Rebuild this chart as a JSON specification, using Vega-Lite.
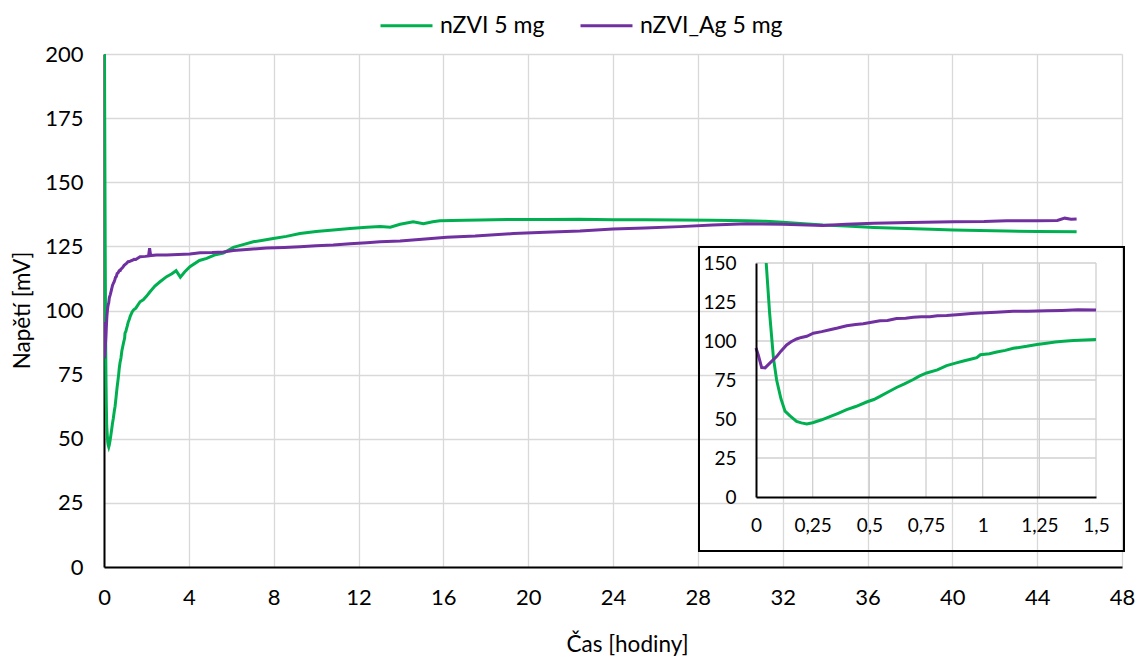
{
  "$schema": "https://vega.github.io/schema/vega-lite/v6.json",
  "width": 1018,
  "height": 513,
  "autosize": {"type": "none"},
  "padding": {"left": 104, "top": 54, "right": 14, "bottom": 91},
  "background": "white",
  "config": {
    "view": {"stroke": null},
    "font": "Lato",
    "axis": {"labelFont": "Lato", "titleFont": "Lato", "labelColor": "black", "titleColor": "black", "titleFontWeight": "normal"},
    "legend": {"labelFont": "Lato"}
  },
  "datasets": {
    "insetTimes": [{"t": 0.25}, {"t": 0.5}, {"t": 0.75}, {"t": 1}, {"t": 1.25}, {"t": 1.5}],
    "insetVolts": [{"v": 25}, {"v": 50}, {"v": 75}, {"v": 100}, {"v": 125}, {"v": 150}],
    "curves": [
      {"t": 0, "v": 260, "s": "nZVI 5 mg"},
      {"t": 0.02, "v": 205, "s": "nZVI 5 mg"},
      {"t": 0.045, "v": 150, "s": "nZVI 5 mg"},
      {"t": 0.06, "v": 118, "s": "nZVI 5 mg"},
      {"t": 0.077, "v": 89, "s": "nZVI 5 mg"},
      {"t": 0.091, "v": 75, "s": "nZVI 5 mg"},
      {"t": 0.11, "v": 63, "s": "nZVI 5 mg"},
      {"t": 0.128, "v": 55, "s": "nZVI 5 mg"},
      {"t": 0.15, "v": 52, "s": "nZVI 5 mg"},
      {"t": 0.179, "v": 48.5, "s": "nZVI 5 mg"},
      {"t": 0.2, "v": 47.5, "s": "nZVI 5 mg"},
      {"t": 0.224, "v": 46.8, "s": "nZVI 5 mg"},
      {"t": 0.25, "v": 47.6, "s": "nZVI 5 mg"},
      {"t": 0.29, "v": 49.5, "s": "nZVI 5 mg"},
      {"t": 0.326, "v": 51.5, "s": "nZVI 5 mg"},
      {"t": 0.36, "v": 53.5, "s": "nZVI 5 mg"},
      {"t": 0.4, "v": 56, "s": "nZVI 5 mg"},
      {"t": 0.44, "v": 58, "s": "nZVI 5 mg"},
      {"t": 0.488, "v": 60.9, "s": "nZVI 5 mg"},
      {"t": 0.52, "v": 62.5, "s": "nZVI 5 mg"},
      {"t": 0.547, "v": 64.5, "s": "nZVI 5 mg"},
      {"t": 0.585, "v": 67.5, "s": "nZVI 5 mg"},
      {"t": 0.62, "v": 70.2, "s": "nZVI 5 mg"},
      {"t": 0.655, "v": 72.5, "s": "nZVI 5 mg"},
      {"t": 0.694, "v": 75.3, "s": "nZVI 5 mg"},
      {"t": 0.72, "v": 77.5, "s": "nZVI 5 mg"},
      {"t": 0.753, "v": 79.5, "s": "nZVI 5 mg"},
      {"t": 0.8, "v": 81.5, "s": "nZVI 5 mg"},
      {"t": 0.841, "v": 84.2, "s": "nZVI 5 mg"},
      {"t": 0.88, "v": 85.8, "s": "nZVI 5 mg"},
      {"t": 0.915, "v": 87.2, "s": "nZVI 5 mg"},
      {"t": 0.96, "v": 88.8, "s": "nZVI 5 mg"},
      {"t": 0.974, "v": 89.3, "s": "nZVI 5 mg"},
      {"t": 0.99, "v": 91.2, "s": "nZVI 5 mg"},
      {"t": 1.03, "v": 91.8, "s": "nZVI 5 mg"},
      {"t": 1.062, "v": 92.9, "s": "nZVI 5 mg"},
      {"t": 1.1, "v": 94, "s": "nZVI 5 mg"},
      {"t": 1.135, "v": 95.3, "s": "nZVI 5 mg"},
      {"t": 1.194, "v": 96.6, "s": "nZVI 5 mg"},
      {"t": 1.24, "v": 97.8, "s": "nZVI 5 mg"},
      {"t": 1.282, "v": 98.6, "s": "nZVI 5 mg"},
      {"t": 1.32, "v": 99.3, "s": "nZVI 5 mg"},
      {"t": 1.356, "v": 99.8, "s": "nZVI 5 mg"},
      {"t": 1.4, "v": 100.3, "s": "nZVI 5 mg"},
      {"t": 1.45, "v": 100.6, "s": "nZVI 5 mg"},
      {"t": 1.5, "v": 100.9, "s": "nZVI 5 mg"},
      {"t": 1.7, "v": 103.4, "s": "nZVI 5 mg"},
      {"t": 1.85, "v": 104.2, "s": "nZVI 5 mg"},
      {"t": 2.0, "v": 105.5, "s": "nZVI 5 mg"},
      {"t": 2.17, "v": 107.3, "s": "nZVI 5 mg"},
      {"t": 2.4, "v": 109.5, "s": "nZVI 5 mg"},
      {"t": 2.64, "v": 111.2, "s": "nZVI 5 mg"},
      {"t": 2.95, "v": 113.2, "s": "nZVI 5 mg"},
      {"t": 3.2, "v": 114.3, "s": "nZVI 5 mg"},
      {"t": 3.4, "v": 115.5, "s": "nZVI 5 mg"},
      {"t": 3.6, "v": 113.0, "s": "nZVI 5 mg"},
      {"t": 3.8, "v": 115.0, "s": "nZVI 5 mg"},
      {"t": 4.05, "v": 117.1, "s": "nZVI 5 mg"},
      {"t": 4.5, "v": 119.5, "s": "nZVI 5 mg"},
      {"t": 4.84, "v": 120.3, "s": "nZVI 5 mg"},
      {"t": 5.2, "v": 121.6, "s": "nZVI 5 mg"},
      {"t": 5.63, "v": 122.4, "s": "nZVI 5 mg"},
      {"t": 6.1, "v": 124.6, "s": "nZVI 5 mg"},
      {"t": 6.6, "v": 125.8, "s": "nZVI 5 mg"},
      {"t": 7.04, "v": 126.8, "s": "nZVI 5 mg"},
      {"t": 7.5, "v": 127.4, "s": "nZVI 5 mg"},
      {"t": 7.98, "v": 128.1, "s": "nZVI 5 mg"},
      {"t": 8.6, "v": 128.9, "s": "nZVI 5 mg"},
      {"t": 9.24, "v": 130.0, "s": "nZVI 5 mg"},
      {"t": 10.0, "v": 130.8, "s": "nZVI 5 mg"},
      {"t": 10.81, "v": 131.4, "s": "nZVI 5 mg"},
      {"t": 11.6, "v": 132.0, "s": "nZVI 5 mg"},
      {"t": 12.39, "v": 132.5, "s": "nZVI 5 mg"},
      {"t": 13.02, "v": 132.7, "s": "nZVI 5 mg"},
      {"t": 13.5, "v": 132.5, "s": "nZVI 5 mg"},
      {"t": 13.96, "v": 133.6, "s": "nZVI 5 mg"},
      {"t": 14.58, "v": 134.6, "s": "nZVI 5 mg"},
      {"t": 15.06, "v": 133.8, "s": "nZVI 5 mg"},
      {"t": 15.5, "v": 134.6, "s": "nZVI 5 mg"},
      {"t": 15.84, "v": 135.0, "s": "nZVI 5 mg"},
      {"t": 17.0, "v": 135.2, "s": "nZVI 5 mg"},
      {"t": 17.73, "v": 135.3, "s": "nZVI 5 mg"},
      {"t": 19.0, "v": 135.5, "s": "nZVI 5 mg"},
      {"t": 20.87, "v": 135.5, "s": "nZVI 5 mg"},
      {"t": 22.4, "v": 135.6, "s": "nZVI 5 mg"},
      {"t": 24.0, "v": 135.4, "s": "nZVI 5 mg"},
      {"t": 25.5, "v": 135.4, "s": "nZVI 5 mg"},
      {"t": 27.16, "v": 135.3, "s": "nZVI 5 mg"},
      {"t": 28.7, "v": 135.2, "s": "nZVI 5 mg"},
      {"t": 30.3, "v": 135.0, "s": "nZVI 5 mg"},
      {"t": 31.2, "v": 134.8, "s": "nZVI 5 mg"},
      {"t": 32.0, "v": 134.4, "s": "nZVI 5 mg"},
      {"t": 33.0, "v": 133.8, "s": "nZVI 5 mg"},
      {"t": 33.9, "v": 133.3, "s": "nZVI 5 mg"},
      {"t": 35.0, "v": 132.9, "s": "nZVI 5 mg"},
      {"t": 36.3, "v": 132.4, "s": "nZVI 5 mg"},
      {"t": 37.85, "v": 132.0, "s": "nZVI 5 mg"},
      {"t": 39.0, "v": 131.7, "s": "nZVI 5 mg"},
      {"t": 40.05, "v": 131.4, "s": "nZVI 5 mg"},
      {"t": 41.3, "v": 131.2, "s": "nZVI 5 mg"},
      {"t": 42.56, "v": 131.0, "s": "nZVI 5 mg"},
      {"t": 44.0, "v": 130.8, "s": "nZVI 5 mg"},
      {"t": 45.86, "v": 130.7, "s": "nZVI 5 mg"},
      {"t": 0, "v": 95.5, "s": "nZVI_Ag 5 mg"},
      {"t": 0.01, "v": 91, "s": "nZVI_Ag 5 mg"},
      {"t": 0.025, "v": 83, "s": "nZVI_Ag 5 mg"},
      {"t": 0.04, "v": 82.8, "s": "nZVI_Ag 5 mg"},
      {"t": 0.062, "v": 86, "s": "nZVI_Ag 5 mg"},
      {"t": 0.091, "v": 90, "s": "nZVI_Ag 5 mg"},
      {"t": 0.11, "v": 93.5, "s": "nZVI_Ag 5 mg"},
      {"t": 0.135, "v": 97.5, "s": "nZVI_Ag 5 mg"},
      {"t": 0.155, "v": 99.5, "s": "nZVI_Ag 5 mg"},
      {"t": 0.179, "v": 101.3, "s": "nZVI_Ag 5 mg"},
      {"t": 0.2, "v": 102.3, "s": "nZVI_Ag 5 mg"},
      {"t": 0.224, "v": 103, "s": "nZVI_Ag 5 mg"},
      {"t": 0.253, "v": 105, "s": "nZVI_Ag 5 mg"},
      {"t": 0.29, "v": 106, "s": "nZVI_Ag 5 mg"},
      {"t": 0.326, "v": 107.2, "s": "nZVI_Ag 5 mg"},
      {"t": 0.36, "v": 108.3, "s": "nZVI_Ag 5 mg"},
      {"t": 0.4, "v": 109.8, "s": "nZVI_Ag 5 mg"},
      {"t": 0.44, "v": 110.6, "s": "nZVI_Ag 5 mg"},
      {"t": 0.473, "v": 111.1, "s": "nZVI_Ag 5 mg"},
      {"t": 0.51, "v": 112, "s": "nZVI_Ag 5 mg"},
      {"t": 0.547, "v": 113, "s": "nZVI_Ag 5 mg"},
      {"t": 0.58, "v": 113.2, "s": "nZVI_Ag 5 mg"},
      {"t": 0.62, "v": 114.4, "s": "nZVI_Ag 5 mg"},
      {"t": 0.66, "v": 114.6, "s": "nZVI_Ag 5 mg"},
      {"t": 0.694, "v": 115.2, "s": "nZVI_Ag 5 mg"},
      {"t": 0.73, "v": 115.6, "s": "nZVI_Ag 5 mg"},
      {"t": 0.767, "v": 115.6, "s": "nZVI_Ag 5 mg"},
      {"t": 0.8, "v": 116.2, "s": "nZVI_Ag 5 mg"},
      {"t": 0.841, "v": 116.4, "s": "nZVI_Ag 5 mg"},
      {"t": 0.9, "v": 117, "s": "nZVI_Ag 5 mg"},
      {"t": 0.95, "v": 117.6, "s": "nZVI_Ag 5 mg"},
      {"t": 0.99, "v": 117.9, "s": "nZVI_Ag 5 mg"},
      {"t": 1.06, "v": 118.4, "s": "nZVI_Ag 5 mg"},
      {"t": 1.135, "v": 119, "s": "nZVI_Ag 5 mg"},
      {"t": 1.2, "v": 119.1, "s": "nZVI_Ag 5 mg"},
      {"t": 1.282, "v": 119.4, "s": "nZVI_Ag 5 mg"},
      {"t": 1.35, "v": 119.6, "s": "nZVI_Ag 5 mg"},
      {"t": 1.42, "v": 120, "s": "nZVI_Ag 5 mg"},
      {"t": 1.5, "v": 119.9, "s": "nZVI_Ag 5 mg"},
      {"t": 1.7, "v": 121, "s": "nZVI_Ag 5 mg"},
      {"t": 1.95, "v": 121.1, "s": "nZVI_Ag 5 mg"},
      {"t": 2.1, "v": 121.3, "s": "nZVI_Ag 5 mg"},
      {"t": 2.15, "v": 124.3, "s": "nZVI_Ag 5 mg"},
      {"t": 2.2, "v": 121.4, "s": "nZVI_Ag 5 mg"},
      {"t": 2.48, "v": 121.6, "s": "nZVI_Ag 5 mg"},
      {"t": 2.95, "v": 121.6, "s": "nZVI_Ag 5 mg"},
      {"t": 3.5, "v": 121.8, "s": "nZVI_Ag 5 mg"},
      {"t": 4.05, "v": 122, "s": "nZVI_Ag 5 mg"},
      {"t": 4.53, "v": 122.5, "s": "nZVI_Ag 5 mg"},
      {"t": 5.1, "v": 122.6, "s": "nZVI_Ag 5 mg"},
      {"t": 5.63, "v": 122.8, "s": "nZVI_Ag 5 mg"},
      {"t": 6.1, "v": 123.4, "s": "nZVI_Ag 5 mg"},
      {"t": 6.88, "v": 123.9, "s": "nZVI_Ag 5 mg"},
      {"t": 7.67, "v": 124.4, "s": "nZVI_Ag 5 mg"},
      {"t": 8.5, "v": 124.6, "s": "nZVI_Ag 5 mg"},
      {"t": 9.24, "v": 124.9, "s": "nZVI_Ag 5 mg"},
      {"t": 10.0, "v": 125.2, "s": "nZVI_Ag 5 mg"},
      {"t": 10.81, "v": 125.5, "s": "nZVI_Ag 5 mg"},
      {"t": 11.6, "v": 126.0, "s": "nZVI_Ag 5 mg"},
      {"t": 12.39, "v": 126.4, "s": "nZVI_Ag 5 mg"},
      {"t": 13.02, "v": 126.8, "s": "nZVI_Ag 5 mg"},
      {"t": 13.96, "v": 127.1, "s": "nZVI_Ag 5 mg"},
      {"t": 15.0, "v": 127.8, "s": "nZVI_Ag 5 mg"},
      {"t": 16.16, "v": 128.6, "s": "nZVI_Ag 5 mg"},
      {"t": 17.5, "v": 129.0, "s": "nZVI_Ag 5 mg"},
      {"t": 19.3, "v": 130.0, "s": "nZVI_Ag 5 mg"},
      {"t": 20.8, "v": 130.5, "s": "nZVI_Ag 5 mg"},
      {"t": 22.44, "v": 131.0, "s": "nZVI_Ag 5 mg"},
      {"t": 24.0, "v": 131.8, "s": "nZVI_Ag 5 mg"},
      {"t": 25.5, "v": 132.2, "s": "nZVI_Ag 5 mg"},
      {"t": 27.16, "v": 132.7, "s": "nZVI_Ag 5 mg"},
      {"t": 28.7, "v": 133.3, "s": "nZVI_Ag 5 mg"},
      {"t": 30.3, "v": 133.8, "s": "nZVI_Ag 5 mg"},
      {"t": 32.0, "v": 133.6, "s": "nZVI_Ag 5 mg"},
      {"t": 33.9, "v": 133.1, "s": "nZVI_Ag 5 mg"},
      {"t": 35.0, "v": 133.6, "s": "nZVI_Ag 5 mg"},
      {"t": 36.3, "v": 134.0, "s": "nZVI_Ag 5 mg"},
      {"t": 38.0, "v": 134.3, "s": "nZVI_Ag 5 mg"},
      {"t": 40.05, "v": 134.6, "s": "nZVI_Ag 5 mg"},
      {"t": 41.5, "v": 134.7, "s": "nZVI_Ag 5 mg"},
      {"t": 42.56, "v": 135.0, "s": "nZVI_Ag 5 mg"},
      {"t": 44.0, "v": 135.0, "s": "nZVI_Ag 5 mg"},
      {"t": 44.95, "v": 135.1, "s": "nZVI_Ag 5 mg"},
      {"t": 45.3, "v": 136.0, "s": "nZVI_Ag 5 mg"},
      {"t": 45.6, "v": 135.6, "s": "nZVI_Ag 5 mg"},
      {"t": 45.86, "v": 135.7, "s": "nZVI_Ag 5 mg"}
    ]
  },
  "layer": [
    {
      "data": {"name": "curves"},
      "mark": {"type": "line", "strokeWidth": 3, "clip": true},
      "encoding": {
        "x": {
          "field": "t", "type": "quantitative",
          "scale": {"domain": [0, 48], "nice": false, "zero": false},
          "axis": {
            "values": [0, 4, 8, 12, 16, 20, 24, 28, 32, 36, 40, 44, 48],
            "grid": true, "gridColor": "#D9D9D9", "gridWidth": 1.3,
            "domainColor": "black", "domainWidth": 2, "ticks": false,
            "labelFontSize": 22, "labelPadding": 20, "labelFlush": false,
            "title": "Čas [hodiny]", "titleFontSize": 22.5, "titleX": 523, "titleY": 84, "titleBaseline": "alphabetic", "titleAnchor": "middle"
          }
        },
        "y": {
          "field": "v", "type": "quantitative",
          "scale": {"domain": [0, 200], "nice": false},
          "axis": {
            "values": [0, 25, 50, 75, 100, 125, 150, 175, 200],
            "grid": true, "gridColor": "#D9D9D9", "gridWidth": 1.3,
            "domainColor": "black", "domainWidth": 2, "ticks": false,
            "labelFontSize": 22, "labelPadding": 21, "labelFlush": false,
            "title": "Napětí [mV]", "titleFontSize": 22.5, "titleX": -82, "titleY": 256, "titleBaseline": "middle", "titleAnchor": "middle"
          }
        },
        "color": {
          "field": "s", "type": "nominal",
          "scale": {"domain": ["nZVI 5 mg", "nZVI_Ag 5 mg"], "range": ["#00B050", "#7030A0"]},
          "legend": {
            "title": null, "orient": "none", "legendX": 275, "legendY": -56, "direction": "horizontal",
            "symbolType": "stroke", "symbolStrokeWidth": 3, "symbolSize": 2700,
            "labelFontSize": 23, "labelColor": "black", "labelOffset": 6, "columnPadding": 29
          }
        }
      }
    },
    {
      "layer": [
        {
          "data": {"values": [{}]},
          "mark": {"type": "rect", "fill": "white", "fillOpacity": 0, "stroke": "black", "strokeWidth": 2},
          "encoding": {
            "x": {"datum": -0.2515, "type": "quantitative"},
            "x2": {"datum": 1.6235},
            "y": {"datum": -34.6, "type": "quantitative"},
            "y2": {"datum": 160.3}
          }
        },
        {
          "data": {"name": "insetTimes"},
          "mark": {"type": "rule", "stroke": "#D0D0D0", "strokeWidth": 1.3},
          "encoding": {
            "x": {"field": "t", "type": "quantitative"},
            "y": {"datum": 0, "type": "quantitative"},
            "y2": {"datum": 150}
          }
        },
        {
          "data": {"name": "insetVolts"},
          "mark": {"type": "rule", "stroke": "#D0D0D0", "strokeWidth": 1.3},
          "encoding": {
            "y": {"field": "v", "type": "quantitative"},
            "x": {"datum": 0, "type": "quantitative"},
            "x2": {"datum": 1.5}
          }
        },
        {
          "data": {"name": "curves"},
          "transform": [{"filter": "datum.t <= 1.5 && datum.v <= 150"}],
          "mark": {"type": "line", "strokeWidth": 3},
          "encoding": {
            "x": {
              "field": "t", "type": "quantitative",
              "scale": {"domain": [0, 1.5], "range": [652, 992], "nice": false, "zero": false},
              "axis": {
                "orient": "top", "offset": -443, "zindex": 1,
                "values": [0, 0.25, 0.5, 0.75, 1, 1.25, 1.5],
                "grid": false,
                "domainColor": "black", "domainWidth": 2, "ticks": false,
                "labelFontSize": 19, "labelPadding": -28, "labelBaseline": "middle", "labelFlush": false,
                "labelExpr": "replace(format(datum.value, '~g'), '.', ',')",
                "title": null
              }
            },
            "y": {
              "field": "v", "type": "quantitative",
              "scale": {"domain": [0, 150], "range": [443, 209], "nice": false},
              "axis": {
                "orient": "left", "offset": -652, "zindex": 1,
                "values": [0, 25, 50, 75, 100, 125, 150],
                "grid": false,
                "domainColor": "black", "domainWidth": 2, "ticks": false,
                "labelFontSize": 19, "labelPadding": 20, "labelFlush": false,
                "title": null
              }
            },
            "color": {"field": "s", "type": "nominal"}
          }
        }
      ]
    }
  ],
  "resolve": {"scale": {"x": "independent", "y": "independent"}}
}
